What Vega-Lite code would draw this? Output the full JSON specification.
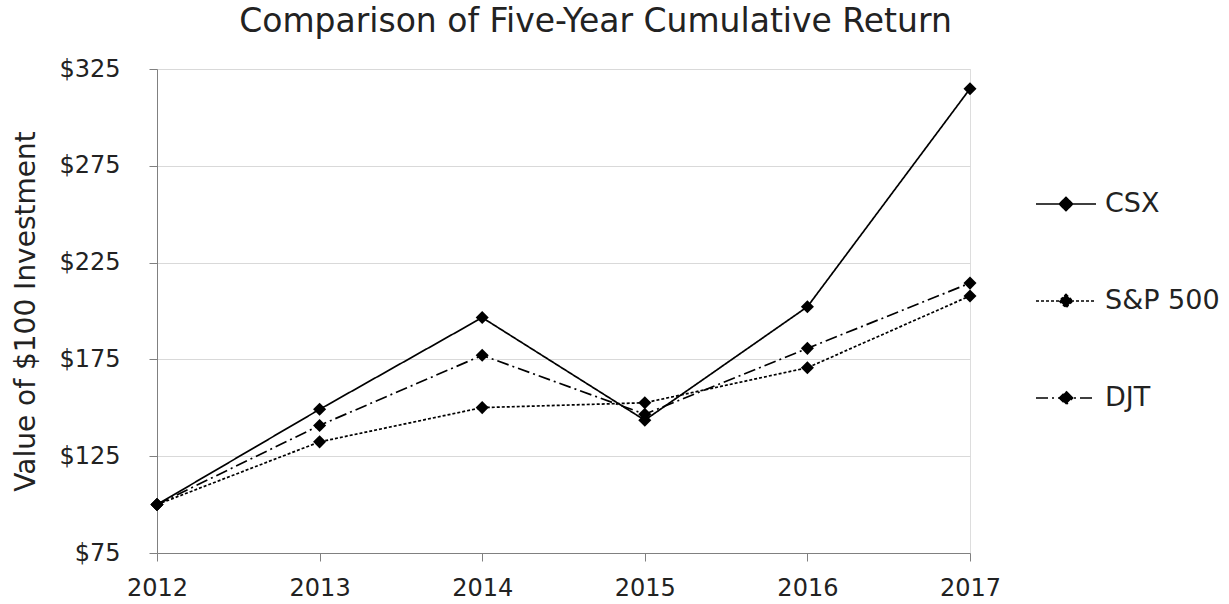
{
  "$schema": "https://vega.github.io/schema/vega-lite/v6.json",
  "width": 813,
  "height": 484,
  "autosize": "none",
  "padding": {"left": 157, "top": 69, "right": 259, "bottom": 51},
  "background": "white",
  "title": {
    "text": "Comparison of Five-Year Cumulative Return",
    "font": "DejaVu Sans",
    "fontSize": 33,
    "fontWeight": "normal",
    "color": "#222222",
    "anchor": "middle",
    "offset": 18,
    "dx": 32
  },
  "data": {
    "values": [
      {"year": 2012, "series": "CSX", "value": 100},
      {"year": 2013, "series": "CSX", "value": 149.2},
      {"year": 2014, "series": "CSX", "value": 196.6},
      {"year": 2015, "series": "CSX", "value": 143.6},
      {"year": 2016, "series": "CSX", "value": 202.2},
      {"year": 2017, "series": "CSX", "value": 314.8},
      {"year": 2012, "series": "S&P 500", "value": 100},
      {"year": 2013, "series": "S&P 500", "value": 132.4},
      {"year": 2014, "series": "S&P 500", "value": 150.1},
      {"year": 2015, "series": "S&P 500", "value": 152.6},
      {"year": 2016, "series": "S&P 500", "value": 170.7},
      {"year": 2017, "series": "S&P 500", "value": 207.8},
      {"year": 2012, "series": "DJT", "value": 100},
      {"year": 2013, "series": "DJT", "value": 140.9},
      {"year": 2014, "series": "DJT", "value": 177.1},
      {"year": 2015, "series": "DJT", "value": 146.7},
      {"year": 2016, "series": "DJT", "value": 180.7},
      {"year": 2017, "series": "DJT", "value": 214.4}
    ]
  },
  "mark": {
    "type": "line",
    "color": "black",
    "strokeWidth": 1.7,
    "point": {"shape": "diamond", "filled": true, "size": 170, "color": "black"}
  },
  "encoding": {
    "x": {
      "field": "year",
      "type": "quantitative",
      "scale": {"domain": [2012, 2017], "nice": false, "zero": false},
      "axis": {
        "values": [2012, 2013, 2014, 2015, 2016, 2017],
        "format": "d",
        "title": null,
        "grid": false,
        "labelFlush": false,
        "domainColor": "#808080",
        "tickColor": "#808080",
        "tickSize": 8,
        "labelFont": "DejaVu Sans",
        "labelFontSize": 24,
        "labelColor": "#222222",
        "labelPadding": 15
      }
    },
    "y": {
      "field": "value",
      "type": "quantitative",
      "scale": {"domain": [75, 325], "nice": false, "zero": false},
      "axis": {
        "values": [75, 125, 175, 225, 275, 325],
        "format": "$.0f",
        "title": "Value of $100 Investment",
        "titleFont": "DejaVu Sans",
        "titleFontSize": 28,
        "titleFontWeight": "normal",
        "titleColor": "#222222",
        "titlePadding": 18,
        "grid": true,
        "gridColor": "#d9d9d9",
        "domainColor": "#808080",
        "tickColor": "#808080",
        "tickSize": 8,
        "labelFont": "DejaVu Sans",
        "labelFontSize": 24,
        "labelColor": "#222222",
        "labelPadding": 29
      }
    },
    "strokeDash": {
      "field": "series",
      "type": "nominal",
      "scale": {
        "domain": ["CSX", "S&P 500", "DJT"],
        "range": [[1, 0], [3, 2], [12, 4, 2, 4]]
      },
      "legend": {
        "title": null,
        "orient": "none",
        "legendX": 878,
        "legendY": 104,
        "symbolType": "M-1,0H1M0,-0.22L0.22,0L0,0.22L-0.22,0Z",
        "symbolSize": 3600,
        "symbolStrokeWidth": 1.7,
        "symbolFillColor": "black",
        "symbolStrokeColor": "black",
        "labelFont": "DejaVu Sans",
        "labelFontSize": 27,
        "labelColor": "#222222",
        "labelOffset": 8,
        "rowPadding": 53,
        "encode": {
          "symbols": {
            "update": {
              "fill": {"value": "black"},
              "fillOpacity": {"value": 1},
              "stroke": {"value": "black"},
              "opacity": {"value": 1}
            }
          }
        }
      }
    }
  }
}
